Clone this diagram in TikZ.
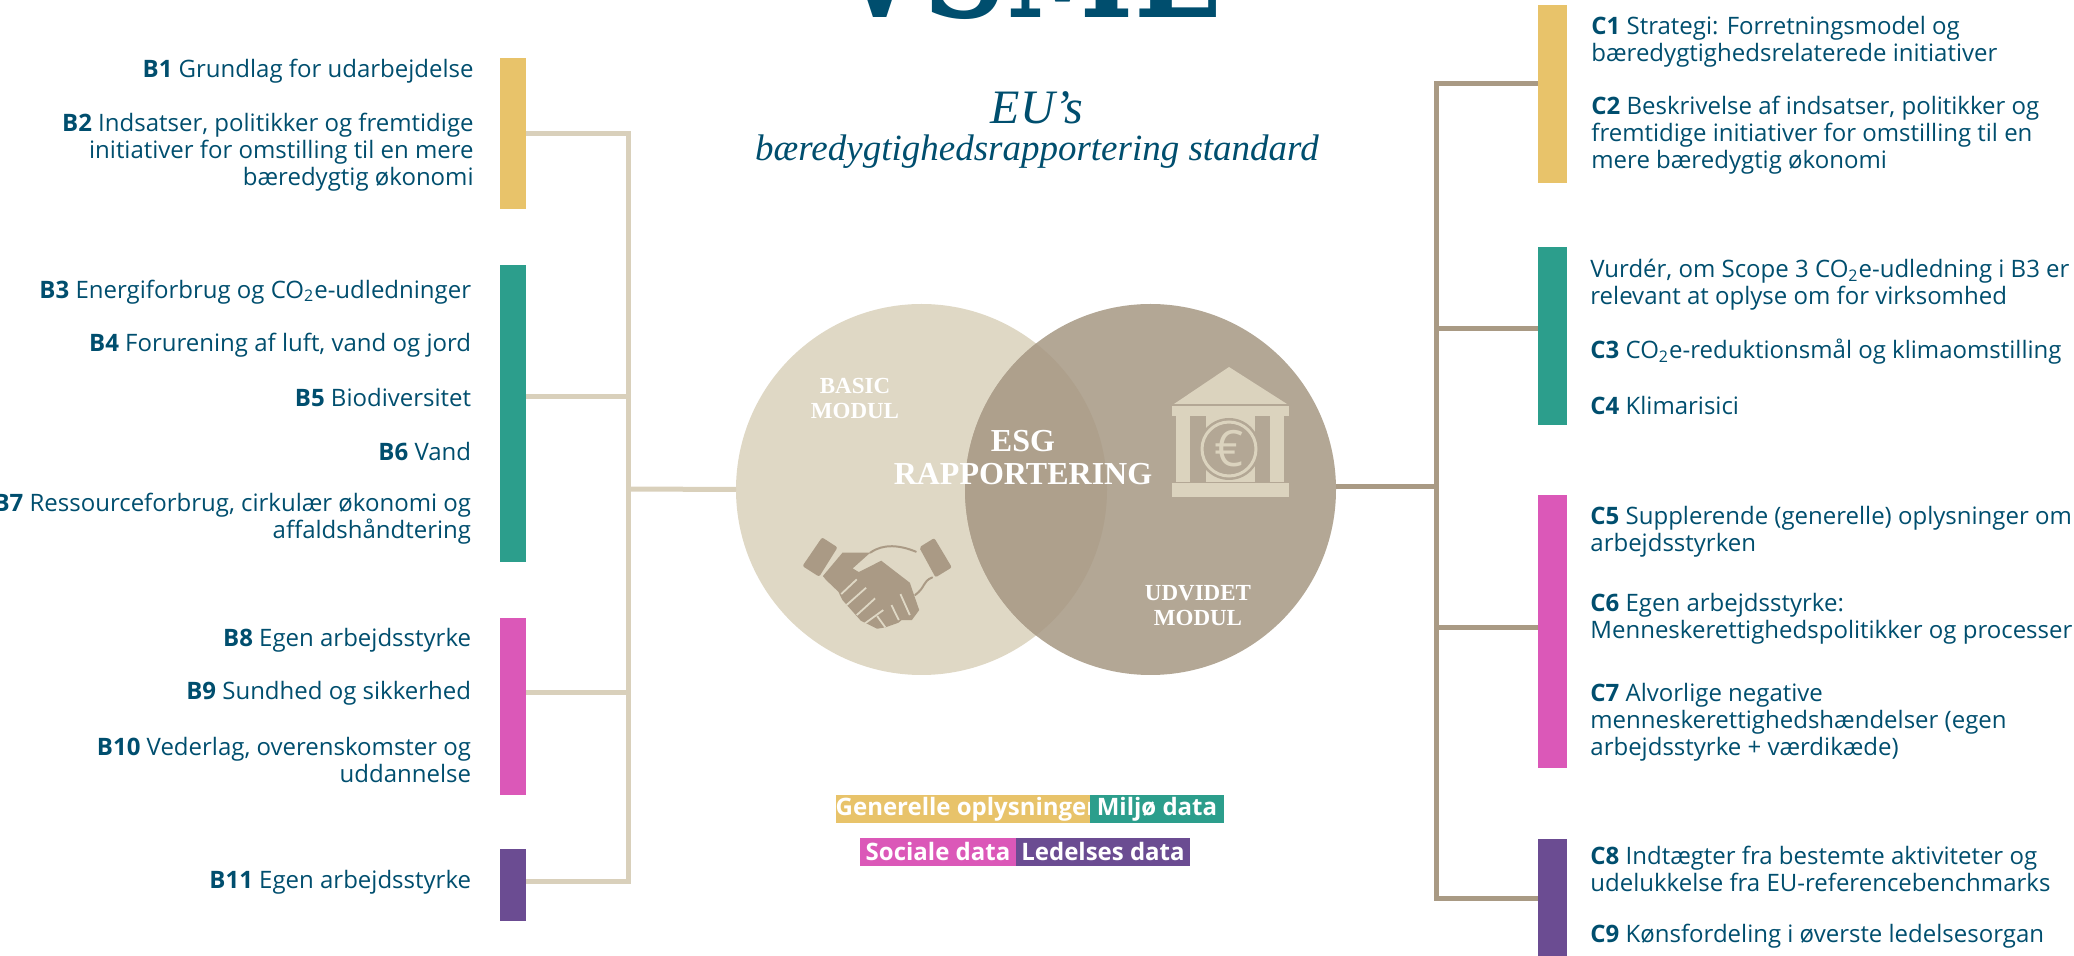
\documentclass[tikz,border=0pt]{standalone}
\usepackage{fontspec}
\setmainfont{Open Sans}
\newfontfamily\serifhead{Liberation Serif}
\newfontfamily\slabhead{DejaVu Serif}[FakeStretch=0.8]
\definecolor{navy}{HTML}{004E6E}
\definecolor{cyellow}{HTML}{E8C36A}
\definecolor{cgreen}{HTML}{2C9E8C}
\definecolor{cpink}{HTML}{DB58B8}
\definecolor{cpurple}{HTML}{6B4C92}
\definecolor{beige}{HTML}{DFD8C5}
\definecolor{taupe}{HTML}{B3A795}
\definecolor{overlapc}{HTML}{AEA08C}
\definecolor{lineL}{HTML}{D9D0BB}
\definecolor{lineR}{HTML}{A99A84}
\definecolor{iconB}{HTML}{DBD3BE}
\definecolor{iconH}{HTML}{AA9A85}
\newcommand{\COtwo}{CO\textsubscript{2}e}
\newcommand{\code}[1]{\textbf{#1}}
\tikzset{
  bluetext/.style={inner sep=0pt,text=navy,font=\fontsize{12}{13.6}\selectfont},
  rtext/.style={bluetext,anchor=east,align=right},
  ltext/.style={bluetext,anchor=west,align=left},
  bar/.style={inner sep=0pt,outer sep=0pt,minimum width=#1},
  legend/.style={inner sep=0pt,outer sep=0pt,minimum height=14pt,text=white,font=\fontsize{12}{14}\bfseries\selectfont},
  linkL/.style={draw=lineL,line width=2.5pt},
  linkR/.style={draw=lineR,line width=2.5pt},
  circ/.style={circle,inner sep=0pt,outer sep=0pt,minimum size=185.5pt},
  headw/.style={inner sep=0pt,text=white,align=center,font=\serifhead\bfseries},
}
\begin{document}
\begin{tikzpicture}[x=0.5pt,y=-0.5pt]
\path[use as bounding box] (0,0) rectangle (2074,956);
\clip (0,0) rectangle (2074,956);
% title
\node[inner sep=0pt,anchor=base,text=navy] (vsme) at (1028,18) {\fontsize{72}{72}\slabhead\bfseries VSME};
\node[inner sep=0pt,text=navy] (eus) at (1037,108) {\fontsize{24}{26}\serifhead\itshape EU’s};
\node[inner sep=0pt,text=navy] (std) at (1037,152) {\fontsize{18.5}{22}\serifhead\itshape bæredygtighedsrapportering standard};
% bars
\node[bar=13pt,fill=cyellow,minimum height=75.5pt] (bl1) at (513,133.5) {};
\node[bar=13pt,fill=cgreen,minimum height=148.5pt] (bl2) at (513,413.5) {};
\node[bar=13pt,fill=cpink,minimum height=88.5pt] (bl3) at (513,706.5) {};
\node[bar=13pt,fill=cpurple,minimum height=36pt] (bl4) at (513,885) {};
\node[bar=14.5pt,fill=cyellow,minimum height=89pt] (br1) at (1552,94) {};
\node[bar=14.5pt,fill=cgreen,minimum height=89pt] (br2) at (1552,336) {};
\node[bar=14.5pt,fill=cpink,minimum height=136.5pt] (br3) at (1552,631.5) {};
\node[bar=14.5pt,fill=cpurple,minimum height=60pt] (br4) at (1552,899) {};
% circles
\node[circ,fill=beige] (cl) at (921.5,489.5) {};
\node[circ,fill=taupe] (cr) at (1150.5,489.5) {};
\begin{scope}
\clip (cl.center) circle (185.5);
\fill[overlapc] (cr.center) circle (185.5);
\end{scope}
% connectors left
\coordinate (jl0) at (628,489);
\coordinate (jl1) at (628,134);
\coordinate (jl2) at (628,397);
\coordinate (jl3) at (628,693);
\coordinate (jl4) at (628,882);
\draw[linkL] (bl1.east |- jl1) -- (jl1) -- (jl4) -- (bl4.east |- jl4);
\draw[linkL] (bl2.east |- jl2) -- (jl2);
\draw[linkL] (bl3.east |- jl3) -- (jl3);
\draw[linkL] (jl0) -- (cl.west);
% connectors right
\coordinate (jr0) at (1436,487);
\coordinate (jr1) at (1436,84);
\coordinate (jr2) at (1436,329);
\coordinate (jr3) at (1436,628);
\coordinate (jr4) at (1436,899);
\draw[linkR] (br1.west |- jr1) -- (jr1) -- (jr4) -- (br4.west |- jr4);
\draw[linkR] (br2.west |- jr2) -- (jr2);
\draw[linkR] (br3.west |- jr3) -- (jr3);
\draw[linkR] (cr.east |- jr0) -- (jr0);
% left text
\node[rtext] (b1) at (474,71) {\code{B1} Grundlag for udarbejdelse};
\node[rtext] (b2) at (474,152) {\code{B2} Indsatser, politikker og fremtidige\\initiativer for omstilling til en mere\\bæredygtig økonomi};
\node[rtext] (b3) at (471.5,292) {\code{B3} Energiforbrug og \COtwo-udledninger};
\node[rtext] (b4) at (471.5,345) {\code{B4} Forurening af luft, vand og jord};
\node[rtext] (b5) at (471.5,398) {\code{B5} Biodiversitet};
\node[rtext] (b6) at (471.5,452) {\code{B6} Vand};
\node[rtext] (b7) at (471.5,519) {\code{B7} Ressourceforbrug, cirkulær økonomi og\\affaldshåndtering};
\node[rtext] (b8) at (471.5,640) {\code{B8} Egen arbejdsstyrke};
\node[rtext] (b9) at (471.5,693) {\code{B9} Sundhed og sikkerhed};
\node[rtext] (b10) at (471.5,760) {\code{B10} Vederlag, overenskomster og\\uddannelse};
\node[rtext] (b11) at (471.5,882) {\code{B11} Egen arbejdsstyrke};
% right text
\node[ltext] (c1) at (1591,42) {\code{C1} Strategi: Forretningsmodel og\\bæredygtighedsrelaterede initiativer};
\node[ltext] (c2) at (1591,135) {\code{C2} Beskrivelse af indsatser, politikker og\\fremtidige initiativer for omstilling til en\\mere bæredygtig økonomi};
\node[ltext] (v) at (1590,285) {Vurdér, om Scope 3 \COtwo-udledning i B3 er\\relevant at oplyse om for virksomhed};
\node[ltext] (c3) at (1590,352) {\code{C3} \COtwo-reduktionsmål og klimaomstilling};
\node[ltext] (c4) at (1590,406) {\code{C4} Klimarisici};
\node[ltext] (c5) at (1590,532) {\code{C5} Supplerende (generelle) oplysninger om\\arbejdsstyrken};
\node[ltext] (c6) at (1590,619) {\code{C6} Egen arbejdsstyrke:\\Menneskerettighedspolitikker og processer};
\node[ltext] (c7) at (1590,722) {\code{C7} Alvorlige negative\\menneskerettighedshændelser (egen\\arbejdsstyrke + værdikæde)};
\node[ltext] (c8) at (1590,869) {\code{C8} Indtægter fra bestemte aktiviteter og\\udelukkelse fra EU-referencebenchmarks};
\node[ltext] (c9) at (1590,936) {\code{C9} Kønsfordeling i øverste ledelsesorgan};
% circle labels
\node[headw,font=\serifhead\bfseries\fontsize{11.5}{12.5}\selectfont] (basic) at (855,399) {BASIC\\MODUL};
\node[headw,font=\serifhead\bfseries\fontsize{11.5}{12.5}\selectfont] (udv) at (1198,606) {UDVIDET\\MODUL};
\node[headw,font=\serifhead\bfseries\fontsize{16}{16.5}\selectfont] (esg) at (1023,458) {ESG\\RAPPORTERING};
% bank icon
\fill[iconB] (1229,367) -- (1287,404) -- (1174,404) -- cycle;
\fill[iconB] (1172,406) rectangle (1289,416);
\fill[iconB] (1176,416) rectangle (1190,482);
\fill[iconB] (1270,416) rectangle (1284,482);
\fill[iconB] (1206,416) rectangle (1255,482);
\fill[iconB] (1172,483) rectangle (1289,497);
\fill[taupe] (1229,449) circle (31);
\draw[iconB,line width=1.5pt] (1229,449) circle (27);
\node[inner sep=0pt,text=iconB,font=\fontsize{25}{25}\selectfont] (euro) at (1229,449) {€};
% handshake icon
\begin{scope}[shift={(720,290)},x=0.2041pt,y=-0.1667pt]
\fill[iconH,rounded corners=1pt] (250,742) -- (288,772) -- (243,860) -- (202,828) -- cycle;
\fill[iconH,rounded corners=1pt] (525,744) -- (568,832) -- (528,862) -- (488,772) -- cycle;
\fill[iconH] (300,788) -- (368,788) -- (325,835) -- (340,846) -- (395,812) -- (465,878) -- (488,960) -- (470,990) -- (445,990) -- (437,998) -- (405,1012) -- (385,1016) -- (345,992) -- (300,930) -- (290,905) -- (260,870) -- (252,858) -- cycle;
\draw[iconH,line width=1pt,line cap=round] (368,788) .. controls (400,760) and (440,765) .. (480,785);
\draw[iconH,line width=1pt,line cap=round] (520,862) .. controls (495,875) and (505,890) .. (478,915);
\draw[beige,line width=0.9pt] (335,868) -- (297,912) (358,893) -- (310,945) (380,925) -- (335,975) (400,960) -- (355,1000);
\draw[beige,line width=0.9pt] (420,945) -- (438,990) (442,912) -- (465,975) (385,978) -- (405,1012);
\end{scope}
% legend
\node[legend,fill=cyellow,minimum width=123.5pt] (lg1) at (966.5,809) {Generelle oplysninger};
\node[legend,fill=cgreen,minimum width=67pt] (lg2) at (1157,809) {Miljø data};
\node[legend,fill=cpink,minimum width=78pt] (lg3) at (938,852) {Sociale data};
\node[legend,fill=cpurple,minimum width=87pt] (lg4) at (1103,852) {Ledelses data};
\end{tikzpicture}
\end{document}
